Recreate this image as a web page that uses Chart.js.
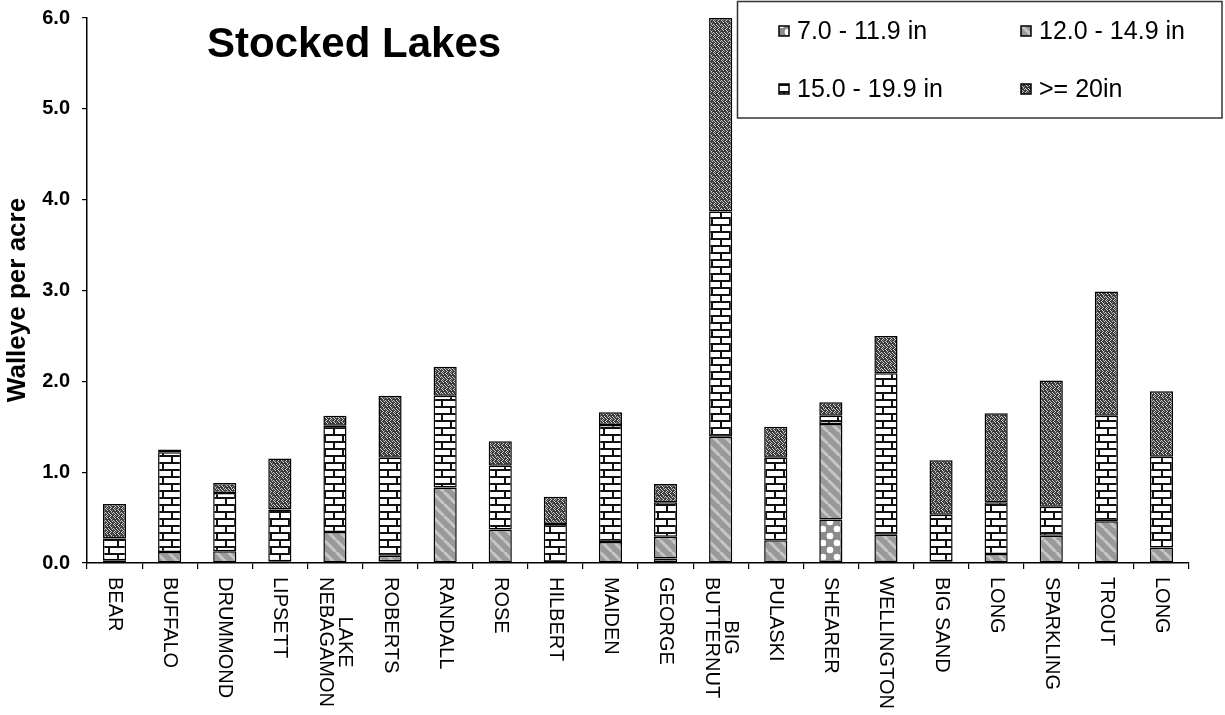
<!DOCTYPE html>
<html>
<head>
    <style>
        body, html {
            margin: 0;
            width: 1225px;
            height: 715px;
            background: #ffffff;
            overflow: hidden;
        }
        #wrap {
            position: relative;
            width: 1225px;
            height: 715px;
        }
    </style>
    <script src="https://cdn.jsdelivr.net/npm/chart.js"></script>
</head>
<body>
    <div id="wrap">
        <canvas id="lakeChart" width="1225" height="715"></canvas>
    </div>

    <script>
        // lake names (multi-line where the original breaks them)
        const lakes = ["BEAR", "BUFFALO", "DRUMMOND", "LIPSETT", ["LAKE", "NEBAGAMON"], "ROBERTS",
            "RANDALL", "ROSE", "HILBERT", "MAIDEN", "GEORGE", ["BIG", "BUTTERNUT"], "PULASKI",
            "SHEARER", "WELLINGTON", "BIG SAND", "LONG", "SPARKLING", "TROUT", "LONG"];

        const sizeClasses = ["7.0 - 11.9 in", "12.0 - 14.9 in", "15.0 - 19.9 in", ">= 20in"];

        // walleye per acre, by size class
        const len7to12 = [0.01, 0.00, 0.00, 0.01, 0.00, 0.02, 0.00, 0.00, 0.01, 0.00,
            0.05, 0.00, 0.00, 0.48, 0.01, 0.01, 0.00, 0.00, 0.00, 0.00];
        const len12to15 = [0.02, 0.12, 0.13, 0.01, 0.34, 0.06, 0.83, 0.37, 0.00, 0.23,
            0.24, 1.39, 0.25, 1.05, 0.30, 0.01, 0.10, 0.30, 0.46, 0.17];
        const len15to20 = [0.24, 1.10, 0.64, 0.57, 1.17, 1.08, 1.01, 0.70, 0.42, 1.29,
            0.38, 2.48, 0.91, 0.09, 1.78, 0.51, 0.57, 0.32, 1.16, 1.00];
        const len20plus = [0.38, 0.03, 0.11, 0.56, 0.11, 0.68, 0.32, 0.27, 0.30, 0.14,
            0.20, 2.13, 0.34, 0.15, 0.41, 0.60, 0.98, 1.39, 1.37, 0.72];

        const yTicks = [0, 1, 2, 3, 4, 5, 6];

        const FONT = "'Liberation Sans', Arial, sans-serif";

        // --- fill patterns ---
        function makeTile(w, h, draw) {
            const c = document.createElement("canvas");
            c.width = w;
            c.height = h;
            const g = c.getContext("2d");
            draw(g, w, h);
            return document.createElement("canvas").getContext("2d").createPattern(c, "repeat");
        }

        // grey with white spots
        const dotsPattern = makeTile(14, 14, function(g, w, h) {
            g.fillStyle = "#8c8c8c";
            g.fillRect(0, 0, w, h);
            g.fillStyle = "#ffffff";
            g.beginPath(); g.arc(4, 4, 3.3, 0, Math.PI * 2); g.fill();
            g.beginPath(); g.arc(11, 11, 3.3, 0, Math.PI * 2); g.fill();
        });

        // grey with light diagonal stripes
        const stripePattern = makeTile(12, 12, function(g, w, h) {
            g.fillStyle = "#999999";
            g.fillRect(0, 0, w, h);
            g.strokeStyle = "#c6c6c6";
            g.lineWidth = 3;
            for (let x = -12; x <= 12; x += 12) {
                g.beginPath();
                g.moveTo(x, 0);
                g.lineTo(x + 12, 12);
                g.stroke();
            }
        });

        // white bricks with black mortar
        const brickPattern = makeTile(18, 14, function(g, w, h) {
            g.fillStyle = "#ffffff";
            g.fillRect(0, 0, w, h);
            g.fillStyle = "#111111";
            g.fillRect(0, 0, w, 2);
            g.fillRect(0, 7, w, 2);
            g.fillRect(0, 0, 2, 7);
            g.fillRect(9, 7, 2, 7);
        });

        // dark weave with light squiggles
        const weavePattern = makeTile(8, 8, function(g, w, h) {
            g.fillStyle = "#3a3a3a";
            g.fillRect(0, 0, w, h);
            const light = [[0, 1], [1, 0], [2, 1], [3, 2], [2, 3], [1, 4], [2, 5], [3, 6],
                [5, 1], [6, 2], [7, 3], [6, 4], [5, 5], [6, 6], [7, 7], [4, 0]];
            g.fillStyle = "#d2d2d2";
            light.forEach(function(p) { g.fillRect(p[0], p[1], 1, 1); });
            g.fillStyle = "#8a8a8a";
            [[0, 6], [4, 3], [3, 4], [7, 0]].forEach(function(p) { g.fillRect(p[0], p[1], 1, 1); });
        });

        const fills = [dotsPattern, stripePattern, brickPattern, weavePattern];
        const series = [len7to12, len12to15, len15to20, len20plus];

        // titles, rotated category labels and boxed legend
        const decorations = {
            id: "decorations",
            afterDraw(chart) {
                const ctx = chart.ctx;
                const xs = chart.scales.x;
                ctx.save();
                ctx.fillStyle = "#000";

                // chart title
                ctx.font = "bold 42px " + FONT;
                ctx.textAlign = "left";
                ctx.textBaseline = "alphabetic";
                ctx.fillText("Stocked Lakes", 207, 57);

                // y axis title
                ctx.save();
                ctx.translate(18, 300);
                ctx.rotate(-Math.PI / 2);
                ctx.font = "bold 26px " + FONT;
                ctx.textAlign = "center";
                ctx.textBaseline = "middle";
                ctx.fillText("Walleye per acre", 0, 0);
                ctx.restore();

                // category labels, reading top to bottom
                ctx.font = "20px " + FONT;
                const lineH = 19;
                lakes.forEach(function(lab, i) {
                    const lines = Array.isArray(lab) ? lab : [lab];
                    let maxW = 0;
                    lines.forEach(function(t) { maxW = Math.max(maxW, ctx.measureText(t).width); });
                    ctx.save();
                    ctx.translate(xs.getPixelForValue(i), 577);
                    ctx.rotate(Math.PI / 2);
                    ctx.textAlign = "center";
                    ctx.textBaseline = "middle";
                    lines.forEach(function(t, k) {
                        ctx.fillText(t, maxW / 2, (k - (lines.length - 1) / 2) * lineH);
                    });
                    ctx.restore();
                });

                // legend box
                ctx.fillStyle = "#ffffff";
                ctx.fillRect(737, 1, 485, 117);
                ctx.strokeStyle = "#333";
                ctx.lineWidth = 1.5;
                ctx.strokeRect(737.5, 1.5, 484.5, 116.5);
                const spots = [[779, 31], [1021, 31], [779, 89], [1021, 89]];
                ctx.font = "25px " + FONT;
                ctx.textAlign = "left";
                ctx.textBaseline = "middle";
                sizeClasses.forEach(function(name, i) {
                    const p = spots[i];
                    ctx.fillStyle = fills[i];
                    ctx.fillRect(p[0], p[1] - 5, 10, 10);
                    ctx.strokeStyle = "#000";
                    ctx.lineWidth = 1.5;
                    ctx.strokeRect(p[0], p[1] - 5, 10, 10);
                    ctx.fillStyle = "#000";
                    ctx.fillText(name, p[0] + 18, p[1] + 1);
                });
                ctx.restore();
            }
        };

        const ctx = document.getElementById("lakeChart").getContext("2d");
        new Chart(ctx, {
            type: "bar",
            data: {
                labels: lakes,
                datasets: series.map(function(vals, i) {
                    return {
                        label: sizeClasses[i],
                        data: vals,
                        backgroundColor: fills[i],
                        borderColor: "#000000",
                        borderWidth: 1.5,
                        borderSkipped: false,
                        barPercentage: 0.42,
                        categoryPercentage: 1.0
                    };
                })
            },
            options: {
                responsive: false,
                animation: false,
                layout: {
                    padding: { top: 18, right: 36, bottom: 0, left: 0 }
                },
                plugins: {
                    legend: { display: false },
                    tooltip: { enabled: false }
                },
                scales: {
                    x: {
                        stacked: true,
                        afterFit: function(s) { s.height = 152; },
                        border: { color: "#000", width: 1.5 },
                        grid: {
                            display: true,
                            offset: true,
                            drawOnChartArea: false,
                            drawTicks: true,
                            tickLength: 6,
                            color: "#000",
                            lineWidth: 1.2
                        },
                        ticks: { display: false }
                    },
                    y: {
                        stacked: true,
                        min: yTicks[0],
                        max: yTicks[yTicks.length - 1],
                        afterFit: function(s) {
                            s.width = 87;
                            s.paddingTop = 0;
                            s.paddingBottom = 0;
                        },
                        afterBuildTicks: function(s) {
                            s.ticks = yTicks.map(function(v) { return { value: v }; });
                        },
                        border: { color: "#000", width: 1.5 },
                        grid: {
                            drawOnChartArea: false,
                            drawTicks: true,
                            tickLength: 5,
                            color: "#000",
                            lineWidth: 1.2
                        },
                        ticks: {
                            padding: 12,
                            color: "#000",
                            font: { family: FONT, size: 20, weight: "bold" },
                            callback: function(v) { return Number(v).toFixed(1); }
                        }
                    }
                }
            },
            plugins: [decorations]
        });
    </script>
</body>
</html>
